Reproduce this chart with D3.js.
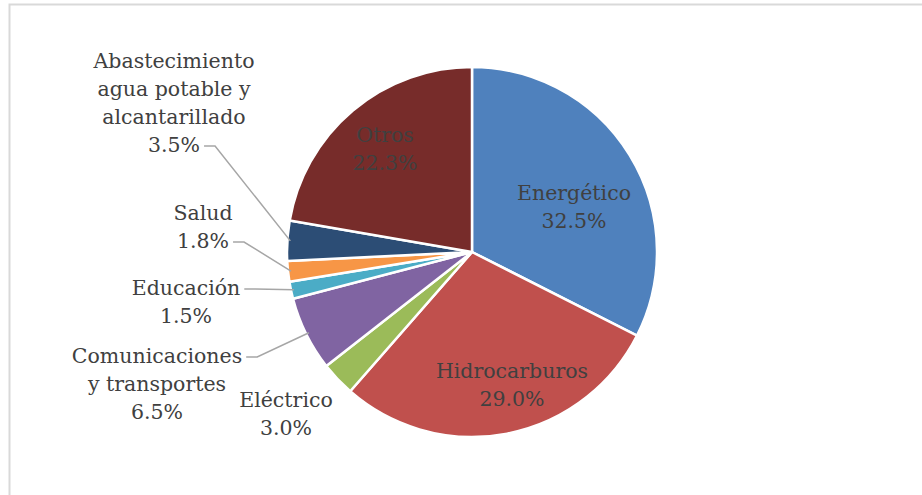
<!DOCTYPE html>
<html>
<head>
<meta charset="utf-8">
<script src="https://cdn.jsdelivr.net/npm/d3@7"></script>
<style>
    body { margin: 0; background: #fff; }
    .pieLabel { font-family: "DejaVu Serif", serif; font-size: 20.5px; fill: #404040; }
    .leader { fill: none; stroke: #a6a6a6; stroke-width: 1.5; }
</style>
</head>
<body>
<script>
(function(){

//pseudo-global variables
var categories = ["Energético", "Hidrocarburos", "Eléctrico", "Comunicaciones y transportes",
    "Educación", "Salud", "Abastecimiento agua potable y alcantarillado", "Otros"];
var shares = [32.5, 29.0, 3.0, 6.5, 1.5, 1.8, 3.5, 22.3];
var colors = ["#4F81BD", "#C0504D", "#9BBB59", "#8064A2", "#4BACC6", "#F79646", "#2C4D75", "#772C2A"];

//label text split into lines (the value line is added below)
var labelLines = [
    ["Energético"],
    ["Hidrocarburos"],
    ["Eléctrico"],
    ["Comunicaciones", "y transportes"],
    ["Educación"],
    ["Salud"],
    ["Abastecimiento", "agua potable y", "alcantarillado"],
    ["Otros"]
];

//label placement (center x, first baseline y), leader line on/off and which line it leaves from
var labelPos = [[574, 200], [512, 378], [286, 407], [157, 363], [186, 295], [203, 220], [174, 68], [385, 142]];
var labelLeader = [false, false, false, true, true, true, true, false];
var leaderLine = [0, 0, 0, 0, 0, 1, 3, 0];

//frame dimensions
var width = 922,
    height = 495,
    cx = 472,
    cy = 252,
    radius = 185,
    lineHeight = 28;

window.onload = setChart;

function setChart(){

    var svg = d3.select("body")
        .append("svg")
        .attr("width", width)
        .attr("height", height);

    //chart area border
    svg.append("rect")
        .attr("x", 9.5)
        .attr("y", 4.5)
        .attr("width", 930)
        .attr("height", 520)
        .attr("fill", "#fff")
        .attr("stroke", "#d9d9d9")
        .attr("stroke-width", 2);

    var data = categories.map(function(c, i){
        return { name: c, value: shares[i], color: colors[i], index: i };
    });

    var pie = d3.pie()
        .sort(null)
        .value(function(d){ return d.value; });

    var arc = d3.arc()
        .innerRadius(0)
        .outerRadius(radius);

    var arcs = pie(data);

    var g = svg.append("g")
        .attr("transform", "translate(" + cx + "," + cy + ")");

    //slices
    g.selectAll(".slice")
        .data(arcs)
        .enter()
        .append("path")
        .attr("class", "slice")
        .attr("d", arc)
        .attr("fill", function(d){ return d.data.color; })
        .attr("stroke", "#fff")
        .attr("stroke-width", 2.5)
        .attr("stroke-linejoin", "round");

    //labels
    var labels = svg.selectAll(".pieLabel")
        .data(arcs)
        .enter()
        .append("text")
        .attr("class", "pieLabel")
        .attr("text-anchor", "middle")
        .attr("id", function(d){ return "lab" + d.data.index; });

    labels.each(function(d){
        var i = d.data.index;
        var lines = labelLines[i].concat([d.data.value.toFixed(1) + "%"]);
        var t = d3.select(this);
        lines.forEach(function(s, k){
            t.append("tspan")
                .attr("x", labelPos[i][0])
                .attr("y", labelPos[i][1] + k * lineHeight)
                .text(s);
        });
    });

    //leader lines: from the end of the text, short horizontal, then to the slice edge
    svg.selectAll(".leader")
        .data(arcs.filter(function(d){ return labelLeader[d.data.index]; }))
        .enter()
        .append("polyline")
        .attr("class", "leader")
        .attr("points", function(d){
            var i = d.data.index;
            var mid = (d.startAngle + d.endAngle) / 2;
            var ex = cx + Math.sin(mid) * (radius - 3),
                ey = cy - Math.cos(mid) * (radius - 3);
            var k = leaderLine[i];
            var bb = d3.select("#lab" + i).selectAll("tspan").nodes()[k].getBBox();
            var tx = bb.x + bb.width + 4,
                ty = labelPos[i][1] + k * lineHeight - 6;
            return [[tx, ty], [tx + 11, ty], [ex, ey]].map(function(p){ return p.join(","); }).join(" ");
        });
};

})();
</script>
</body>
</html>
